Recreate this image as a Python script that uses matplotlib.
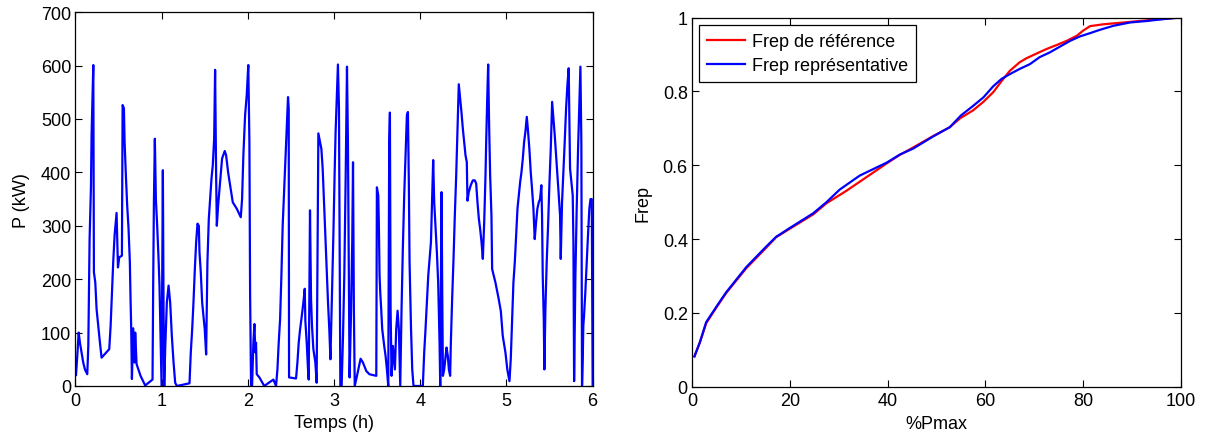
import matplotlib
matplotlib.use("Agg")
import matplotlib.pyplot as plt

plt.rcParams['font.family'] = ['Liberation Sans', 'DejaVu Sans']

# ---- Left panel: power profile ----
temps_h = [0.0, 0.006, 0.021, 0.037, 0.052, 0.071, 0.09, 0.11, 0.137, 0.149, 0.157, 0.164, 0.18, 0.187,
           0.207, 0.214, 0.23, 0.245, 0.268, 0.284, 0.303, 0.392, 0.408, 0.423, 0.438, 0.454, 0.477,
           0.493, 0.508, 0.539, 0.547, 0.562, 0.57, 0.585, 0.6, 0.616, 0.631, 0.639, 0.647, 0.655,
           0.67, 0.686, 0.693, 0.709, 0.755, 0.809, 0.894, 0.902, 0.91, 0.921, 0.933, 0.948, 0.964,
           0.975, 0.99, 0.999, 1.014, 1.022, 1.03, 1.041, 1.06, 1.08, 1.099, 1.118, 1.138, 1.157,
           1.176, 1.234, 1.323, 1.338, 1.354, 1.369, 1.385, 1.4, 1.416, 1.431, 1.439, 1.454, 1.47,
           1.485, 1.5, 1.516, 1.524, 1.531, 1.547, 1.562, 1.578, 1.593, 1.609, 1.62, 1.632, 1.64,
           1.655, 1.671, 1.686, 1.701, 1.732, 1.748, 1.771, 1.794, 1.825, 1.871, 1.918, 1.933,
           1.948, 1.968, 1.987, 2.005, 2.018, 2.026, 2.037, 2.049, 2.064, 2.076, 2.087, 2.095,
           2.103, 2.134, 2.19, 2.296, 2.327, 2.343, 2.358, 2.374, 2.389, 2.404, 2.42, 2.435, 2.451,
           2.466, 2.474, 2.478, 2.559, 2.575, 2.59, 2.606, 2.621, 2.644, 2.66, 2.667, 2.683, 2.698,
           2.706, 2.721, 2.733, 2.744, 2.76, 2.783, 2.798, 2.818, 2.837, 2.853, 2.868, 2.884, 2.899,
           2.914, 2.93, 2.945, 2.958, 2.976, 2.992, 3.007, 3.018, 3.034, 3.045, 3.057, 3.065, 3.073,
           3.088, 3.104, 3.119, 3.135, 3.15, 3.161, 3.169, 3.18, 3.196, 3.211, 3.22, 3.23, 3.24,
           3.266, 3.308, 3.335, 3.374, 3.41, 3.49, 3.497, 3.513, 3.52, 3.528, 3.536, 3.547, 3.559,
           3.582, 3.598, 3.613, 3.629, 3.64, 3.648, 3.656, 3.667, 3.683, 3.706, 3.721, 3.737, 3.752,
           3.76, 3.768, 3.783, 3.798, 3.814, 3.83, 3.845, 3.857, 3.868, 3.876, 3.892, 3.907, 3.922,
           4.03, 4.046, 4.061, 4.077, 4.093, 4.108, 4.124, 4.139, 4.15, 4.162, 4.177, 4.193, 4.208,
           4.224, 4.232, 4.247, 4.255, 4.263, 4.278, 4.294, 4.305, 4.32, 4.332, 4.347, 4.355, 4.37,
           4.386, 4.401, 4.417, 4.432, 4.447, 4.463, 4.478, 4.494, 4.509, 4.525, 4.54, 4.548, 4.563,
           4.586, 4.61, 4.633, 4.649, 4.664, 4.68, 4.695, 4.711, 4.726, 4.742, 4.757, 4.765, 4.776,
           4.788, 4.799, 4.811, 4.826, 4.834, 4.872, 4.91, 4.935, 4.957, 4.988, 5.01, 5.035, 5.05,
           5.066, 5.081, 5.097, 5.112, 5.128, 5.143, 5.159, 5.174, 5.19, 5.205, 5.22, 5.236, 5.251,
           5.266, 5.282, 5.297, 5.313, 5.328, 5.344, 5.359, 5.375, 5.39, 5.405, 5.413, 5.421, 5.433,
           5.44, 5.452, 5.467, 5.483, 5.498, 5.514, 5.53, 5.545, 5.56, 5.576, 5.591, 5.607, 5.622,
           5.63, 5.645, 5.661, 5.676, 5.692, 5.707, 5.722, 5.738, 5.753, 5.769, 5.777, 5.785, 5.8,
           5.815, 5.831, 5.846, 5.858, 5.869, 5.877, 5.885, 5.892, 5.9, 5.915, 5.931, 5.946, 5.962,
           5.975, 5.99, 6.0]
puissance_kw = [30, 20, 56, 100, 81, 63, 44, 31, 22, 75, 175, 275, 375, 470,
                601, 213, 194, 144, 106, 81, 53, 69, 113, 175, 232, 282, 324,
                222, 241, 244, 526, 520, 457, 394, 338, 294, 232, 163, 106, 13,
                108, 44, 100, 41, 19, 1, 12, 194, 344, 463, 350, 300, 238,
                188, 69, 0, 404, 144, 0, 69, 156, 188, 156, 94, 44, 6,
                0, 2, 5, 63, 106, 156, 219, 269, 304, 300, 250, 213, 156,
                131, 106, 59, 144, 232, 313, 350, 388, 413, 463, 592, 394, 300,
                338, 369, 400, 426, 440, 432, 400, 376, 344, 332, 316, 350,
                432, 507, 545, 601, 457, 175, 0, 0, 81, 116, 63, 81,
                22, 16, 0, 12, 0, 31, 81, 125, 206, 300, 363, 419, 482,
                541, 520, 16, 14, 44, 81, 106, 125, 156, 182, 122, 81, 31,
                12, 329, 163, 113, 69, 44, 6, 473, 457, 444, 407, 344, 282,
                219, 156, 106, 50, 175, 282, 400, 476, 551, 602, 520, 269, 0,
                0, 94, 207, 394, 598, 457, 269, 16, 131, 269, 419, 144, 0,
                19, 51, 44, 28, 22, 19, 372, 357, 300, 207, 175, 144, 106,
                75, 56, 31, 0, 457, 512, 144, 19, 75, 31, 106, 141, 106,
                56, 0, 144, 257, 357, 432, 507, 513, 376, 232, 113, 31, 0,
                0, 63, 106, 156, 207, 238, 269, 357, 423, 344, 300, 250, 194,
                81, 0, 363, 175, 19, 31, 56, 72, 56, 31, 19, 81, 163,
                238, 319, 394, 476, 565, 538, 513, 482, 457, 432, 419, 347, 363,
                376, 385, 385, 379, 344, 313, 294, 269, 238, 307, 394, 457, 532,
                602, 488, 394, 319, 219, 194, 163, 140, 94, 63, 31, 9, 50,
                125, 194, 232, 282, 332, 357, 382, 400, 426, 457, 476, 504, 476,
                444, 400, 369, 332, 275, 307, 332, 344, 350, 376, 319, 207, 125,
                31, 144, 232, 300, 376, 444, 532, 501, 470, 432, 394, 357, 319,
                238, 344, 400, 457, 520, 563, 595, 407, 382, 357, 269, 9, 207,
                332, 444, 532, 598, 457, 0, 50, 113, 131, 175, 232, 282, 332,
                350, 350, 0]

# ---- Right panel: cumulative frequency curves ----
pmax_ref = [0.5, 1.6, 2.9, 5.0, 7.0, 11.1, 15.2, 17.2, 20.0, 24.8, 27.5, 31.6, 35.7, 39.8, 42.5,
            45.2, 49.3, 52.7, 54.8, 57.5, 59.6, 61.6, 63.3, 65.0, 67.0, 68.4, 70.5, 72.5, 74.6,
            76.6, 78.7, 80.0, 81.4, 84.1, 87.5, 91.6, 95.7, 99.5]
frep_ref = [0.082, 0.12, 0.172, 0.215, 0.254, 0.321, 0.377, 0.405, 0.428, 0.467, 0.497, 0.531,
            0.568, 0.605, 0.628, 0.648, 0.679, 0.703, 0.727, 0.749, 0.772, 0.798, 0.828, 0.856,
            0.879, 0.89, 0.903, 0.915, 0.926, 0.937, 0.951, 0.965, 0.977, 0.982, 0.986, 0.991,
            0.996, 1.0]
pmax_rep = [0.5, 1.6, 2.9, 5.0, 7.0, 11.1, 15.2, 17.2, 20.0, 24.8, 27.5, 30.2, 34.3, 39.8, 42.5,
            45.2, 49.3, 52.7, 55.0, 57.5, 59.6, 61.6, 63.3, 65.0, 67.0, 69.1, 71.1, 73.2, 75.3,
            77.3, 79.3, 81.4, 83.4, 86.2, 89.6, 93.0, 96.4, 99.5]
frep_rep = [0.082, 0.12, 0.175, 0.217, 0.256, 0.324, 0.38, 0.406, 0.43, 0.47, 0.5, 0.534,
            0.572, 0.607, 0.629, 0.645, 0.678, 0.703, 0.735, 0.761, 0.784, 0.814, 0.834, 0.847,
            0.861, 0.874, 0.893, 0.906, 0.922, 0.937, 0.949, 0.958, 0.967, 0.978, 0.987, 0.991,
            0.996, 1.0]

FS = 13
fig = plt.figure(figsize=(12.27, 4.39), dpi=100)

ax1 = fig.add_axes([0.0615, 0.1185, 0.4215, 0.8515])
ax1.plot(temps_h, puissance_kw, color=(0, 0, 1), lw=1.6)
ax1.set_xlim(0, 6)
ax1.set_ylim(0, 700)
ax1.set_xticks(range(0, 7))
ax1.set_yticks(range(0, 701, 100))
ax1.set_xlabel('Temps (h)', fontsize=FS, labelpad=4)
ax1.set_ylabel('P (kW)', fontsize=FS, labelpad=8)

ax2 = fig.add_axes([0.564, 0.117, 0.3985, 0.8405])
ax2.plot(pmax_ref, frep_ref, color=(1, 0, 0), lw=1.6, label='Frep de référence')
ax2.plot(pmax_rep, frep_rep, color=(0, 0, 1), lw=1.6, label='Frep représentative')
ax2.set_xlim(0, 100)
ax2.set_ylim(0, 1)
ax2.set_xticks(range(0, 101, 20))
ax2.set_yticks([0, 0.2, 0.4, 0.6, 0.8, 1])
ax2.set_yticklabels(['0', '0.2', '0.4', '0.6', '0.8', '1'])
ax2.set_xlabel('%Pmax', fontsize=FS, labelpad=4)
ax2.set_ylabel('Frep', fontsize=FS, labelpad=8)
leg = ax2.legend(loc='upper left', fontsize=FS, frameon=True, fancybox=False,
                 edgecolor='black', framealpha=1, borderpad=0.45, labelspacing=0.4,
                 handlelength=2.1, handletextpad=0.35, borderaxespad=0.4)
leg.get_frame().set_linewidth(0.9)

for ax in (ax1, ax2):
    ax.tick_params(direction='in', top=True, right=True, labelsize=FS, length=5, width=0.8)
    ax.tick_params(axis='y', pad=3)
    ax.tick_params(axis='x', pad=4)
    for s in ax.spines.values():
        s.set_linewidth(0.9)

fig.savefig('out.png', dpi=100)
